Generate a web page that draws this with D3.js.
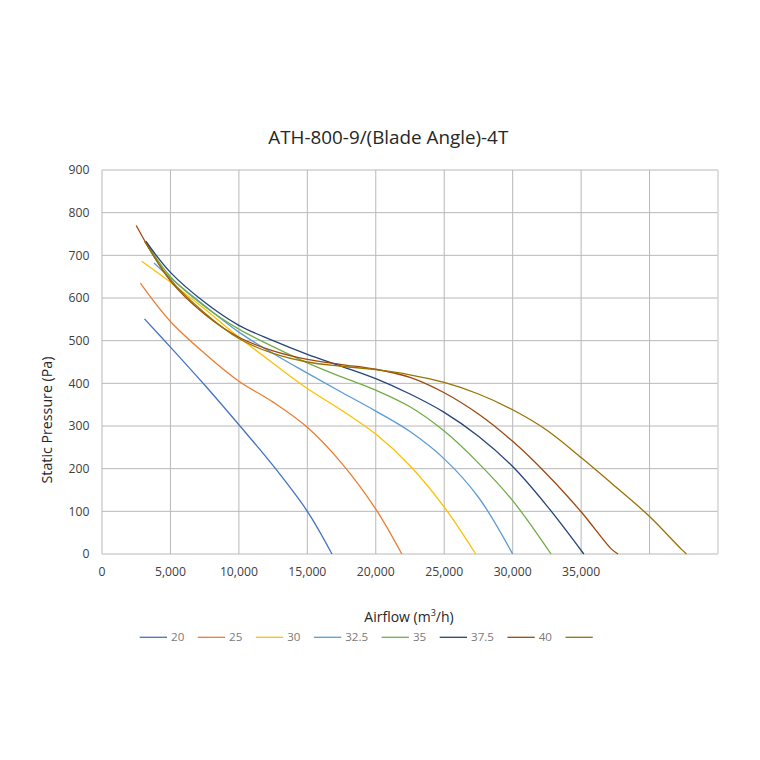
<!DOCTYPE html>
<html>
<head>
<meta charset="utf-8">
<script src="https://cdn.jsdelivr.net/npm/d3@7"></script>
<style>
html,body{margin:0;padding:0;background:#fff;}
svg{display:block;font-family:"Open Sans",sans-serif;}
</style>
</head>
<body>
<svg id="chart" width="760" height="760"></svg>
<script>
// ---- data ----
const seriesNames = ["20", "25", "30", "32.5", "35", "37.5", "40", ""];
const seriesColors = ["#4472C4", "#ED7D31", "#FFC000", "#5B9BD5", "#70AD47", "#264478", "#9E480E", "#997300"];

const flow20 = [3100, 5000, 7500, 10000, 12500, 15000, 16800];
const pres20 = [551, 485, 396, 303, 207, 100, 0];

const flow25 = [2800, 5000, 7500, 10000, 12500, 15000, 17500, 20000, 21900];
const pres25 = [635, 545, 470, 405, 356, 297, 213, 105, 0];

const flow30 = [2900, 5000, 7500, 10000, 12500, 15000, 17500, 20000, 22500, 25000, 27300];
const pres30 = [686, 637, 574, 508, 447, 388, 337, 281, 207, 110, 0];

const flow325 = [3800, 5000, 7500, 10000, 12500, 15000, 17500, 20000, 22500, 25000, 27500, 30000];
const pres325 = [682, 647, 582, 520, 470, 424, 379, 335, 287, 223, 133, 0];

const flow35 = [3200, 5000, 7500, 10000, 12500, 15000, 17500, 20000, 22500, 25000, 27500, 30000, 32800];
const pres35 = [731, 650, 580, 527, 486, 448, 415, 384, 345, 288, 213, 125, 0];

const flow375 = [3200, 5000, 7500, 10000, 12500, 15000, 17500, 20000, 22500, 25000, 27500, 30000, 32500, 35200];
const pres375 = [733, 660, 590, 536, 500, 468, 440, 411, 375, 332, 276, 205, 113, 0];

const flow40 = [2500, 5000, 7500, 10000, 12500, 15000, 17500, 20000, 22500, 25000, 27500, 30000, 32500, 35000, 37200, 37700];
const pres40 = [770, 640, 562, 508, 476, 456, 444, 433, 414, 378, 328, 264, 187, 99, 12, 0];

const flowLast = [3100, 5000, 7500, 10000, 12500, 15000, 17500, 20000, 22500, 25000, 27500, 30000, 32500, 35000, 37500, 40000, 42300, 42700];
const presLast = [733, 643, 565, 505, 470, 450, 440, 432, 420, 402, 375, 338, 290, 226, 158, 88, 12, 0];

const xGrid = [0, 5000, 10000, 15000, 20000, 25000, 30000, 35000, 40000, 45000];
const xTickLabels = [0, 5000, 10000, 15000, 20000, 25000, 30000, 35000];
const yTicks = [0, 100, 200, 300, 400, 500, 600, 700, 800, 900];

const titleText = "ATH-800-9/(Blade Angle)-4T";
const yTitle = "Static Pressure (Pa)";

// ---- build ----
const flows = [flow20, flow25, flow30, flow325, flow35, flow375, flow40, flowLast];
const press = [pres20, pres25, pres30, pres325, pres35, pres375, pres40, presLast];
const series = seriesNames.map((n, i) => ({
  name: n, color: seriesColors[i],
  pts: flows[i].map((f, j) => [f, press[i][j]])
}));

const svg = d3.select("#chart");
const x = d3.scaleLinear().domain([0, 45000]).range([102, 718]);
const y = d3.scaleLinear().domain([0, 900]).range([554, 170]);

function fit(sel, target) {
  const node = sel.node();
  const w = node.getComputedTextLength();
  const fs = parseFloat(sel.attr("font-size"));
  if (w > 0) sel.attr("font-size", (fs * target / w).toFixed(2));
}

// gridlines
svg.append("g").selectAll("line").data(yTicks).join("line")
  .attr("x1", x(0)).attr("x2", x(45000))
  .attr("y1", d => y(d)).attr("y2", d => y(d))
  .attr("stroke", d => d === 0 ? "#d0d0d0" : "#b8b8b8")
  .attr("stroke-width", d => d === 0 ? 1.6 : 1);
svg.append("g").selectAll("line").data(xGrid).join("line")
  .attr("x1", d => x(d)).attr("x2", d => x(d))
  .attr("y1", y(0)).attr("y2", y(900))
  .attr("stroke", d => d === 45000 ? "#d4d4d4" : "#b8b8b8")
  .attr("stroke-width", d => d === 45000 ? 1.5 : 1);

// y tick labels
svg.append("g").selectAll("text").data(yTicks).join("text")
  .attr("x", 89.5).attr("y", d => y(d)).attr("dy", "0.35em")
  .attr("text-anchor", "end").attr("font-size", 12.2).attr("fill", "#404040")
  .text(d => d);

// x tick labels
const fmt = d3.format(",");
svg.append("g").selectAll("text").data(xTickLabels).join("text")
  .attr("x", d => x(d)).attr("y", 576)
  .attr("text-anchor", "middle").attr("font-size", 12.2).attr("fill", "#404040")
  .text(d => fmt(d));

// curves
const line = d3.line().x(d => x(d[0])).y(d => y(d[1])).curve(d3.curveCatmullRom.alpha(0.5));
svg.append("g").selectAll("path").data(series).join("path")
  .attr("d", d => line(d.pts))
  .attr("fill", "none").attr("stroke", d => d.color)
  .attr("stroke-width", 1.3).attr("stroke-linejoin", "round");

// title
const t = svg.append("text").attr("x", 388.3).attr("y", 144)
  .attr("text-anchor", "middle").attr("font-size", 18).attr("fill", "#262626")
  .text(titleText);
fit(t, 240);

// y axis title
const yt = svg.append("text")
  .attr("transform", "translate(52,420) rotate(-90)")
  .attr("text-anchor", "middle").attr("font-size", 14).attr("fill", "#262626")
  .text(yTitle);
fit(yt, 127);

// x axis title with superscript
const xt = svg.append("text").attr("x", 409).attr("y", 622)
  .attr("text-anchor", "middle").attr("font-size", 14).attr("fill", "#262626");
xt.append("tspan").text("Airflow (m");
xt.append("tspan").attr("font-size", 9).attr("dy", -6).text("3");
xt.append("tspan").attr("dy", 6).text("/h)");

// legend
const lg = svg.append("g");
let lx = 139.7;
const ly = 637.3;
series.forEach(s => {
  lg.append("line").attr("x1", lx).attr("x2", lx + 27.3).attr("y1", ly).attr("y2", ly)
    .attr("stroke", s.color).attr("stroke-width", 1.3);
  const tx = lg.append("text").attr("x", lx + 31.3).attr("y", ly).attr("dy", "0.35em")
    .attr("font-size", 11.6).attr("fill", "#7a7a7a").text(s.name);
  const w = s.name ? tx.node().getComputedTextLength() : 0;
  lx = lx + 31.3 + w + 13.5;
});
</script>
</body>
</html>
